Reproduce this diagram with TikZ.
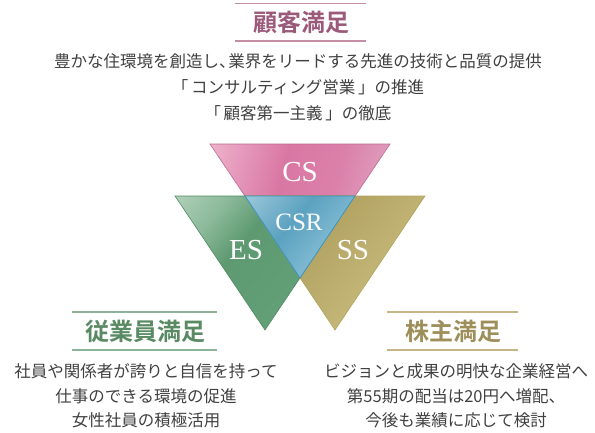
\documentclass[tikz,border=0pt]{standalone}
\usepackage{fontspec}
\newfontfamily\jp{Noto Sans CJK JP}
\newfontfamily\jpb{Noto Sans CJK JP}[BoldFont={* Bold}]
\newfontfamily\lat{Liberation Serif}
\definecolor{txt}{HTML}{404040}
\definecolor{cstitle}{HTML}{9C5A7B}
\definecolor{csline}{HTML}{C68DA6}
\definecolor{estitle}{HTML}{5A8A64}
\definecolor{esline}{HTML}{8DB498}
\definecolor{sstitle}{HTML}{9E8E5A}
\definecolor{ssline}{HTML}{C4B686}
\definecolor{csD}{HTML}{BF6993}
\definecolor{esD}{HTML}{4E8A60}
\definecolor{ssD}{HTML}{B3A55E}
\definecolor{crD}{HTML}{3A94BC}
\pgfdeclarehorizontalshading{csshade}{100bp}{
  color(0bp)=(white!60!pink); color(30bp)=({rgb,255:red,228;green,150;blue,186});
  color(42bp)=({rgb,255:red,217;green,119;blue,163}); color(58bp)=({rgb,255:red,219;green,128;blue,170});
  color(75bp)=({rgb,255:red,224;green,165;blue,194}); color(100bp)=({rgb,255:red,234;green,196;blue,212})}
\pgfdeclarehorizontalshading{esshade}{100bp}{
  color(0bp)=({rgb,255:red,215;green,232;blue,218}); color(28bp)=({rgb,255:red,140;green,186;blue,154});
  color(40bp)=({rgb,255:red,94;green,154;blue,113}); color(62bp)=({rgb,255:red,98;green,158;blue,118});
  color(100bp)=({rgb,255:red,150;green,194;blue,164})}
\pgfdeclarehorizontalshading{ssshade}{100bp}{
  color(0bp)=({rgb,255:red,172;green,157;blue,92}); color(40bp)=({rgb,255:red,178;green,163;blue,98});
  color(65bp)=({rgb,255:red,196;green,183;blue,120}); color(100bp)=({rgb,255:red,228;green,218;blue,165})}
\pgfdeclarehorizontalshading{crshade}{100bp}{
  color(0bp)=({rgb,255:red,190;green,222;blue,234}); color(30bp)=({rgb,255:red,120;green,178;blue,203});
  color(42bp)=({rgb,255:red,92;green,162;blue,192}); color(65bp)=({rgb,255:red,130;green,187;blue,211});
  color(100bp)=({rgb,255:red,185;green,219;blue,233})}
\tikzset{
  title/.style={font=\jpb\bfseries\fontsize{24}{28}\selectfont, inner sep=0pt},
  body/.style={font=\jp\fontsize{16.5}{19}\selectfont, text=txt, inner sep=0pt},
  big/.style={font=\lat\fontsize{29}{32}\selectfont, text=white, inner sep=0pt},
  mid/.style={font=\lat\fontsize{25}{28}\selectfont, text=white, inner sep=0pt},
  rule/.style={line width=1.3pt}
}
\begin{document}
\begin{tikzpicture}[x=1pt,y=-1pt]
\useasboundingbox (0,0) rectangle (595,432);
% triangles
\coordinate (csL) at (210,144); \coordinate (csR) at (390,144); \coordinate (csT) at (300,278);
\coordinate (esL) at (175,196); \coordinate (esR) at (355,196); \coordinate (esT) at (265,330);
\coordinate (ssL) at (245,196); \coordinate (ssR) at (425,196); \coordinate (ssT) at (335,330);
\shade[shading=csshade, shading angle=-15] (csL) -- (csR) -- (csT) -- cycle;
\draw[csD, line width=0.6pt] (csL) -- (csR) -- (csT) -- cycle;
\shade[shading=esshade, shading angle=-40] (esL) -- (esR) -- (esT) -- cycle;
\draw[esD, line width=0.6pt] (esL) -- (esR) -- (esT) -- cycle;
\shade[shading=ssshade, shading angle=-40] (ssL) -- (ssR) -- (ssT) -- cycle;
\draw[ssD, line width=0.6pt] (ssL) -- (ssR) -- (ssT) -- cycle;
\shade[shading=crshade, shading angle=-40] (ssL) -- (esR) -- (csT) -- cycle;
\draw[crD, line width=0.8pt] (ssL) -- (esR) -- (csT) -- cycle;
\node[big] (cs) at (300,172) {CS};
\node[mid] (csr) at (299,222) {CSR};
\node[big] (es) at (246,250) {ES};
\node[big] (ss) at (353,250) {SS};
% top block
\draw[rule, csline] (235,3.5) -- (366,3.5);
\draw[rule, csline] (235,41) -- (366,41);
\node[title, text=cstitle] (t1) at (301,22) {顧客満足};
\node[body] (b11) at (298,61) {豊かな住環境を創造し、\hspace{-0.45em}業界をリードする先進の技術と品質の提供};
\node[body] (b12) at (298,87) {「\,コンサルティング営業\,」の推進};
\node[body] (b13) at (298,113) {「\,顧客第一主義\,」の徹底};
% left block
\draw[rule, esline] (72,312) -- (217,312);
\draw[rule, esline] (72,350) -- (217,350);
\node[title, text=estitle] (t2) at (145,331) {従業員満足};
\node[body] (b21) at (146,371) {社員や関係者が誇りと自信を持って};
\node[body] (b22) at (146,396) {仕事のできる環境の促進};
\node[body] (b23) at (146,420) {女性社員の積極活用};
% right block
\draw[rule, ssline] (387,312) -- (518,312);
\draw[rule, ssline] (387,350) -- (518,350);
\node[title, text=sstitle] (t3) at (453,331) {株主満足};
\node[body] (b31) at (456,371) {ビジョンと成果の明快な企業経営へ};
\node[body] (b32) at (456,396) {第55期の配当は20円へ増配、};
\node[body] (b33) at (456,420) {今後も業績に応じて検討};
\end{tikzpicture}
\end{document}
